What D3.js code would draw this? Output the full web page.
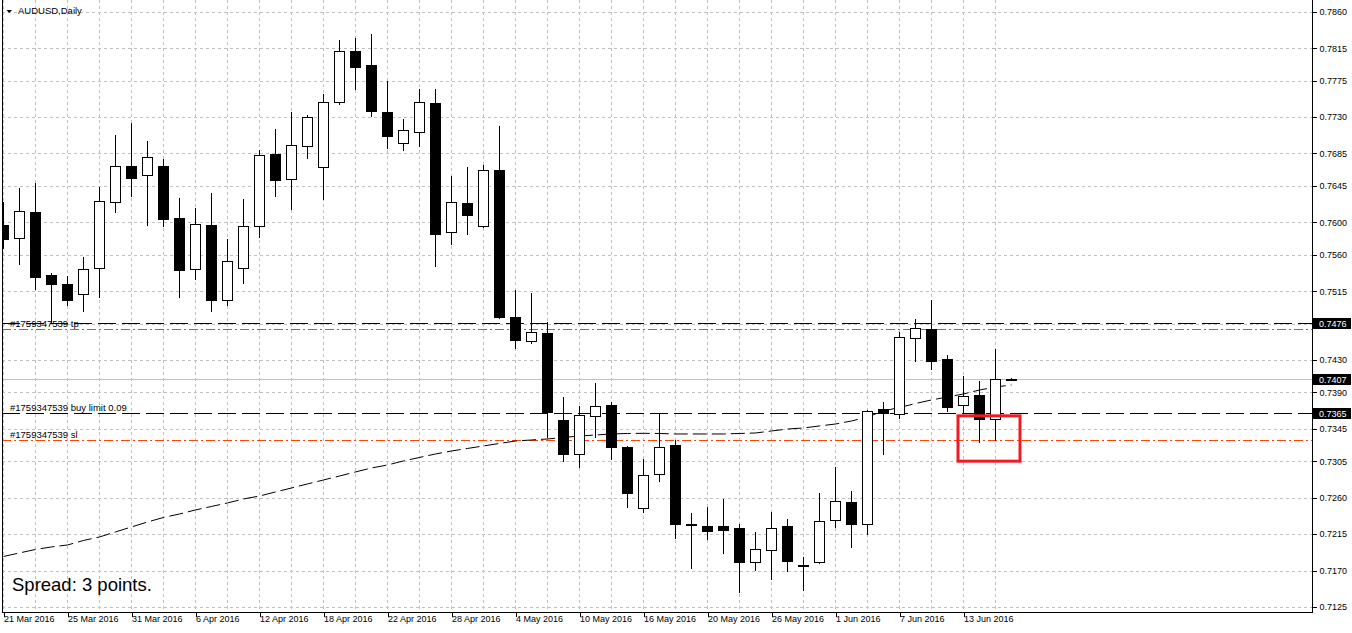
<!DOCTYPE html>
<html>
<head>
<meta charset="utf-8">
<script src="https://cdnjs.cloudflare.com/ajax/libs/d3/7.8.5/d3.min.js"></script>
<style>
    body { margin: 0; background: #fff; }
    svg { display: block; font-family: 'Liberation Sans', Arial, sans-serif; }
    .axis text { font-size: 9px; fill: #000; }
    .axis line { stroke: #000; shape-rendering: crispEdges; }
    .axis path { display: none; }
    .grid { stroke: #c0c0c0; stroke-dasharray: 3,3; shape-rendering: crispEdges; }
</style>
</head>
<body>
<div id="vis"></div>
<script>
// daily candles, AUDUSD 21 Mar - 16 Jun 2016
var dates = ['2016-03-21','2016-03-22','2016-03-23','2016-03-24','2016-03-25','2016-03-28','2016-03-29','2016-03-30','2016-03-31',
    '2016-04-01','2016-04-04','2016-04-05','2016-04-06','2016-04-07','2016-04-08','2016-04-11','2016-04-12','2016-04-13','2016-04-14',
    '2016-04-15','2016-04-18','2016-04-19','2016-04-20','2016-04-21','2016-04-22','2016-04-25','2016-04-26','2016-04-27','2016-04-28',
    '2016-04-29','2016-05-02','2016-05-03','2016-05-04','2016-05-05','2016-05-06','2016-05-09','2016-05-10','2016-05-11','2016-05-12',
    '2016-05-13','2016-05-16','2016-05-17','2016-05-18','2016-05-19','2016-05-20','2016-05-23','2016-05-24','2016-05-25','2016-05-26',
    '2016-05-27','2016-05-30','2016-05-31','2016-06-01','2016-06-02','2016-06-03','2016-06-06','2016-06-07','2016-06-08','2016-06-09',
    '2016-06-10','2016-06-13','2016-06-14','2016-06-15','2016-06-16'];

var opens = [0.7597,0.7580,0.7613,0.7535,0.7524,0.7512,0.7543,0.7625,0.7670,0.7658,0.7670,0.7605,0.7542,0.7597,0.7504,0.7544,
    0.7595,0.7684,0.7653,0.7694,0.7668,0.7748,0.7812,0.7794,0.7736,0.7698,0.7712,0.7747,0.7588,0.7624,0.7596,0.7664,
    0.7483,0.7454,0.7463,0.7356,0.7314,0.7361,0.7374,0.7323,0.7247,0.7289,0.7325,0.7227,0.7225,0.7225,0.7222,0.7180,
    0.7195,0.7225,0.7177,0.7180,0.7232,0.7254,0.7228,0.7369,0.7363,0.7457,0.7468,0.7431,0.7374,0.7387,0.7357,0.7405];
var highs = [0.7625,0.7642,0.7648,0.7537,0.7534,0.7557,0.7644,0.7708,0.7723,0.7700,0.7678,0.7630,0.7618,0.7636,0.7579,0.7629,
    0.7689,0.7715,0.7736,0.7733,0.7759,0.7825,0.7827,0.7833,0.7774,0.7727,0.7765,0.7765,0.7657,0.7668,0.7671,0.7719,
    0.7516,0.7513,0.7477,0.7384,0.7373,0.7402,0.7378,0.7324,0.7308,0.7365,0.7331,0.7241,0.7248,0.7258,0.7227,0.7217,
    0.7242,0.7234,0.7187,0.7266,0.7298,0.7268,0.7368,0.7378,0.7464,0.7481,0.7504,0.7436,0.7410,0.7404,0.7444,0.7408];
var lows = [0.7568,0.7549,0.7518,0.7477,0.7498,0.7491,0.7508,0.7613,0.7633,0.7597,0.7595,0.7508,0.7530,0.7490,0.7498,0.7525,
    0.7582,0.7632,0.7617,0.7679,0.7629,0.7746,0.7765,0.7731,0.7692,0.7689,0.7694,0.7546,0.7573,0.7586,0.7594,0.7482,
    0.7445,0.7451,0.7335,0.7305,0.7298,0.7335,0.7308,0.7248,0.7242,0.7281,0.7210,0.7173,0.7209,0.7192,0.7143,0.7171,
    0.7160,0.7169,0.7146,0.7179,0.7224,0.7199,0.7215,0.7314,0.7358,0.7429,0.7419,0.7367,0.7364,0.7329,0.7331,0.7405];
var closes = [0.7579,0.7614,0.7533,0.7524,0.7504,0.7542,0.7626,0.7669,0.7655,0.7680,0.7604,0.7541,0.7598,0.7504,0.7552,0.7595,
    0.7683,0.7652,0.7695,0.7730,0.7748,0.7811,0.7792,0.7737,0.7707,0.7714,0.7748,0.7586,0.7625,0.7609,0.7665,0.7483,
    0.7455,0.7464,0.7366,0.7314,0.7362,0.7373,0.7323,0.7266,0.7288,0.7323,0.7228,0.7227,0.7219,0.7220,0.7181,0.7196,
    0.7223,0.7182,0.7177,0.7231,0.7256,0.7227,0.7367,0.7365,0.7458,0.7469,0.7429,0.7372,0.7385,0.7357,0.7406,0.7407];

// moving average drawn on the chart
var maValues = [0.71873,0.71917,0.71960,0.71991,0.72015,0.72071,0.72114,0.72176,0.72238,0.72299,0.72355,0.72398,0.72448,
    0.72491,0.72534,0.72583,0.72620,0.72670,0.72719,0.72769,0.72818,0.72867,0.72917,0.72966,0.73003,0.73053,0.73096,
    0.73139,0.73176,0.73207,0.73238,0.73269,0.73299,0.73312,0.73324,0.73343,0.73361,0.73373,0.73386,0.73392,0.73394,
    0.73392,0.73386,0.73386,0.73386,0.73386,0.73392,0.73398,0.73423,0.73447,0.73460,0.73485,0.73509,0.73546,0.73596,
    0.73670,0.73713,0.73762,0.73806,0.73843,0.73880,0.73929,0.73966,0.73991];

// axis labels
var priceTicks = [0.7860,0.7815,0.7775,0.7730,0.7685,0.7645,0.7600,0.7560,0.7515,0.7475,0.7430,0.7390,0.7345,0.7305,0.7260,0.7215,0.7170,0.7125];
var dateTicks = ['2016-03-21','2016-03-25','2016-03-31','2016-04-06','2016-04-12','2016-04-18','2016-04-22','2016-04-28',
    '2016-05-04','2016-05-10','2016-05-16','2016-05-20','2016-05-26','2016-06-01','2016-06-07','2016-06-13'];

// order levels
var levelNames = ['#1759347539 tp', '#1759347539 buy limit 0.09', '#1759347539 sl'];
var levelPrices = [0.7468, 0.7365, 0.7331];
var levelKinds = ['stop', 'order', 'stop'];
var hLinePrice = 0.7476;
var boxedPrices = [0.7476, 0.7407, 0.7365];

// hand drawn box
var markDates = ['2016-06-13', '2016-06-16'];
var markPrices = [0.7361, 0.7305];

var W = 1352, H = 633;
var plot = { left: 2, right: 1312, top: 0, bottom: 612 };
var step = 16;

var parse = d3.timeParse('%Y-%m-%d');
var fmtDate = d3.timeFormat('%-d %b %Y');
var fmtPrice = d3.format('.4f');

var svg = d3.select('#vis')
    .append('svg')
    .attr('width', W)
    .attr('height', H);

svg.append('defs').append('clipPath')
    .attr('id', 'clip')
    .append('rect')
    .attr('x', plot.left)
    .attr('y', plot.top)
    .attr('width', plot.right - plot.left)
    .attr('height', plot.bottom - plot.top);

/* ****** Scales ****** */
var xScale = d3.scalePoint()
    .domain(dates)
    .range([3.5, 3.5 + step * (dates.length - 1)]);

var yScale = d3.scaleLinear()
    .domain([0.7120, 0.7872])
    .range([611, 2]);

var crisp = function (v) { return Math.round(v) + 0.5; };

var g = svg.append('g').attr('clip-path', 'url(#clip)');

/* ****** Grid ****** */
g.selectAll('.hgrid')
    .data(priceTicks)
    .enter()
    .append('line')
    .attr('class', 'grid')
    .attr('x1', plot.left).attr('x2', plot.right)
    .attr('y1', function (d) { return crisp(yScale(d)); })
    .attr('y2', function (d) { return crisp(yScale(d)); });

g.selectAll('.vgrid')
    .data(dates.filter(function (d, i) { return i % 2 == 0; }))
    .enter()
    .append('line')
    .attr('class', 'grid')
    .attr('y1', plot.top).attr('y2', plot.bottom)
    .attr('x1', function (d) { return xScale(d); })
    .attr('x2', function (d) { return xScale(d); });

/* ****** Price lines ****** */
g.append('line')
    .attr('x1', plot.left).attr('x2', plot.right)
    .attr('y1', crisp(yScale(closes[closes.length - 1])))
    .attr('y2', crisp(yScale(closes[closes.length - 1])))
    .attr('stroke', '#c0c0c0')
    .attr('shape-rendering', 'crispEdges');

g.append('line')
    .attr('x1', plot.left).attr('x2', plot.right)
    .attr('y1', crisp(yScale(hLinePrice)))
    .attr('y2', crisp(yScale(hLinePrice)))
    .attr('stroke', '#000')
    .attr('stroke-dasharray', '18,6')
    .attr('shape-rendering', 'crispEdges');

g.selectAll('.level')
    .data(levelPrices)
    .enter()
    .append('line')
    .attr('x1', plot.left).attr('x2', plot.right)
    .attr('y1', function (d) { return crisp(yScale(d)); })
    .attr('y2', function (d) { return crisp(yScale(d)); })
    .attr('stroke', function (d, i) { return levelKinds[i] == 'order' ? '#000' : '#ff4500'; })
    .attr('stroke-dasharray', function (d, i) { return levelKinds[i] == 'order' ? '18,6' : '9,3,2,3'; })
    .attr('shape-rendering', 'crispEdges');

g.selectAll('.levelText')
    .data(levelPrices)
    .enter()
    .append('text')
    .attr('x', 10)
    .attr('y', function (d) { return Math.round(yScale(d)) - 2; })
    .attr('font-size', '9.5px')
    .attr('fill', '#000')
    .text(function (d, i) { return levelNames[i]; });

/* ****** Moving average ****** */
var maLine = d3.line()
    .x(function (d, i) { return xScale(dates[i]); })
    .y(function (d) { return yScale(d); });

g.append('path')
    .datum(maValues)
    .attr('d', maLine)
    .attr('fill', 'none')
    .attr('stroke', '#000')
    .attr('stroke-width', 1)
    .attr('stroke-dasharray', '14,5');

/* ****** Candles ****** */
var candles = dates.map(function (d, i) {
    return { date: d, o: opens[i], h: highs[i], l: lows[i], c: closes[i] };
});

var cg = g.selectAll('.candle')
    .data(candles)
    .enter()
    .append('g')
    .attr('class', 'candle');

cg.append('line')
    .attr('x1', function (d) { return xScale(d.date); })
    .attr('x2', function (d) { return xScale(d.date); })
    .attr('y1', function (d) { return Math.round(yScale(d.h)); })
    .attr('y2', function (d) { return Math.round(yScale(d.l)) + 1; })
    .attr('stroke', '#000')
    .attr('shape-rendering', 'crispEdges');

cg.append('rect')
    .attr('x', function (d) { return xScale(d.date) - 5; })
    .attr('width', 10)
    .attr('y', function (d) { return crisp(yScale(Math.max(d.o, d.c))); })
    .attr('height', function (d) {
        return Math.max(1, crisp(yScale(Math.min(d.o, d.c))) - crisp(yScale(Math.max(d.o, d.c))));
    })
    .attr('fill', function (d) { return d.c >= d.o ? '#fff' : '#000'; })
    .attr('stroke', '#000')
    .attr('shape-rendering', 'crispEdges');

/* ****** Red box ****** */
g.append('rect')
    .attr('x', xScale(markDates[0]) - 5.5)
    .attr('y', yScale(markPrices[0]))
    .attr('width', xScale(markDates[1]) - xScale(markDates[0]) + 14)
    .attr('height', yScale(markPrices[1]) - yScale(markPrices[0]))
    .attr('fill', 'none')
    .attr('stroke', '#ed1c24')
    .attr('stroke-width', 3);

/* ****** Axis ****** */
var yAxis = d3.axisRight(yScale)
    .tickValues(priceTicks)
    .tickSize(4)
    .tickSizeOuter(0)
    .tickFormat(fmtPrice);

svg.append('g')
    .attr('class', 'axis')
    .attr('transform', 'translate(' + (plot.right + 0.5) + ',0)')
    .call(yAxis);

var xAxis = d3.axisBottom(xScale)
    .tickValues(dateTicks)
    .tickSize(4)
    .tickSizeOuter(0)
    .tickFormat(function (d) { return fmtDate(parse(d)); });

svg.append('g')
    .attr('class', 'axis')
    .attr('transform', 'translate(0,' + (plot.bottom + 0.5) + ')')
    .call(xAxis)
    .selectAll('text')
    .attr('text-anchor', 'start')
    .attr('dy', '0.45em')
    .attr('y', 5);

// frame
svg.append('path')
    .attr('d', 'M' + (plot.left + 0.5) + ',' + plot.top + 'V' + (plot.bottom + 0.5) + 'H' + (plot.right + 0.5) + 'V' + plot.top)
    .attr('fill', 'none')
    .attr('stroke', '#000')
    .attr('shape-rendering', 'crispEdges');

/* ****** Boxed price labels ****** */
var boxes = svg.selectAll('.pbox')
    .data(boxedPrices)
    .enter()
    .append('g');

boxes.append('rect')
    .attr('x', plot.right + 1)
    .attr('y', function (d) { return Math.round(yScale(d)) - 5; })
    .attr('width', 38)
    .attr('height', 11)
    .attr('fill', '#000');

boxes.append('text')
    .attr('x', plot.right + 7)
    .attr('y', function (d) { return Math.round(yScale(d)) + 0.5; })
    .attr('dy', '0.35em')
    .attr('font-size', '9px')
    .attr('fill', '#fff')
    .text(fmtPrice);

/* ****** Title + spread ****** */
svg.append('path')
    .attr('d', 'M6.5,10L12,10L9.25,13Z')
    .attr('fill', '#000');

svg.append('text')
    .attr('x', 18)
    .attr('y', 14)
    .attr('font-size', '9.5px')
    .attr('fill', '#000')
    .text('AUDUSD,Daily');

svg.append('text')
    .attr('x', 12)
    .attr('y', 591)
    .attr('font-size', '18.5px')
    .attr('fill', '#000')
    .text('Spread: 3 points.');
</script>
</body>
</html>
